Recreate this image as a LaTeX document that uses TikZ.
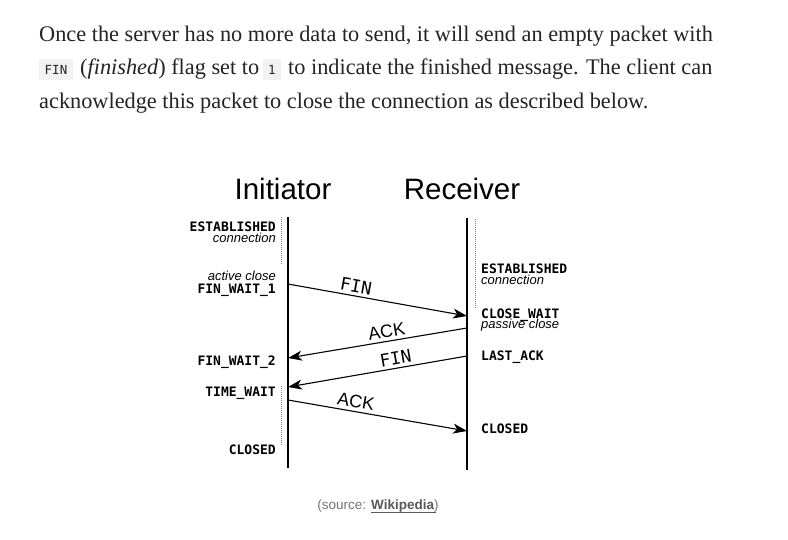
\documentclass[tikz,border=0pt]{standalone}
\usepackage{fontspec}
\setmainfont{Liberation Serif}
\newfontfamily\diasans{Liberation Sans}
\newfontfamily\diamono{DejaVu Sans Mono}
\usetikzlibrary{arrows.meta}
\definecolor{bodytext}{HTML}{242424}
\definecolor{codebg}{HTML}{F2F2F2}
\definecolor{captiongray}{HTML}{757575}
\definecolor{linkgray}{HTML}{5A5A5A}
\begin{document}
\begin{tikzpicture}[x=1pt,y=-1pt,
  bodyline/.style={anchor=base west,inner sep=0pt,text=bodytext,font=\fontsize{22.3}{26}\selectfont},
  codetext/.style={inner sep=0pt,text=bodytext,font=\diamono\fontsize{12.5}{14}\selectfont},
  title/.style={anchor=base,inner sep=0pt,font=\diasans\fontsize{29.5}{32}\selectfont},
  statel/.style={anchor=base east,inner sep=0pt,font=\diamono\bfseries\fontsize{13}{14}\selectfont},
  stater/.style={anchor=base west,inner sep=0pt,font=\diamono\bfseries\fontsize{13}{14}\selectfont},
  notel/.style={anchor=base east,inner sep=0pt,font=\diasans\itshape\fontsize{13}{14}\selectfont},
  noter/.style={anchor=base west,inner sep=0pt,font=\diasans\itshape\fontsize{13}{14}\selectfont},
  timeline/.style={line width=1.3pt},
  waitline/.style={line width=1pt,gray,dash pattern=on 1pt off 1pt},
  msg/.style={line width=1.1pt,-{Stealth[length=14pt,width=10pt,inset=4pt]}},
  msglabel/.style={sloped,above,inner sep=3pt},
  monolabel/.style={font=\diamono\fontsize{17.5}{18}\selectfont},
  sanslabel/.style={font=\diasans\fontsize{18}{18}\selectfont}]
\useasboundingbox[fill=white] (0,0) rectangle (788,539);

% paragraph
\node[bodyline] (p1) at (39,41) {Once the server has no more data to send, it will send an empty packet with};
\fill[codebg] (39,59) rectangle (73,80);
\node[codetext] (c1) at (56,70) {FIN};
\node[bodyline] (p2a) at (80,74.5) {(\textit{finished}) flag set to};
\fill[codebg] (263,59) rectangle (281,80);
\node[codetext] (c2) at (272,70) {1};
\node[bodyline] (p2b) at (288,74.5) {to indicate the finished message. The client can};
\node[bodyline] (p3) at (39,108) {acknowledge this packet to close the connection as described below.};

% titles
\node[title] (tinit) at (283,199) {Initiator};
\node[title] (trecv) at (462,199) {Receiver};

% timelines
\coordinate (itop) at (288,217);
\coordinate (ibot) at (288,468);
\coordinate (rtop) at (467,218);
\coordinate (rbot) at (467,470);
\draw[timeline] (itop) -- (ibot);
\draw[timeline] (rtop) -- (rbot);

% waiting (dotted) lines
\coordinate (w1a) at (281,217);
\coordinate (w1b) at (281,265);
\coordinate (w2a) at (281,386);
\coordinate (w2b) at (281,445);
\coordinate (w3a) at (475,219);
\coordinate (w3b) at (475,308);
\draw[waitline] (w1a) -- (w1b);
\draw[waitline] (w2a) -- (w2b);
\draw[waitline] (w3a) -- (w3b);

% left states
\node[statel] (lest) at (276,231) {ESTABLISHED};
\node[notel] (lcon) at (276,242) {connection};
\node[notel] (lact) at (276,280) {active close};
\node[statel] (lfw1) at (276,293) {FIN\_WAIT\_1};
\node[statel] (lfw2) at (276,365) {FIN\_WAIT\_2};
\node[statel] (ltw) at (276,396) {TIME\_WAIT};
\node[statel] (lcl) at (276,454) {CLOSED};

% right states
\node[stater] (rest) at (481,273) {ESTABLISHED};
\node[noter] (rcon) at (481,284) {connection};
\node[stater] (rcw) at (481,318) {CLOSE\_WAIT};
\node[noter] (rpas) at (481,328) {passive close};
\node[stater] (rla) at (481,360) {LAST\_ACK};
\node[stater] (rcl) at (481,433) {CLOSED};

% messages
\coordinate (m1s) at (288,284);
\coordinate (m1e) at (467,316);
\coordinate (m2s) at (467,328);
\coordinate (m2e) at (288,358);
\coordinate (m3s) at (467,356);
\coordinate (m3e) at (288,387);
\coordinate (m4s) at (288,400);
\coordinate (m4e) at (467,431);
\draw[msg] (m1s) -- node[msglabel,monolabel,pos=0.37] (l1) {FIN} (m1e);
\draw[msg] (m2s) -- node[msglabel,sanslabel,pos=0.44] (l2) {ACK} (m2e);
\draw[msg] (m3s) -- node[msglabel,monolabel,pos=0.39] (l3) {FIN} (m3e);
\draw[msg] (m4s) -- node[msglabel,sanslabel,pos=0.37] (l4) {ACK} (m4e);

% caption
\node[anchor=base,inner sep=0pt,font=\diasans\fontsize{13.5}{15}\selectfont] (cap) at (378,509)
  {\textcolor{captiongray}{(source: }\textcolor{linkgray}{\bfseries Wikipedia}\textcolor{captiongray}{)}};
\coordinate (ula) at (371,512);
\coordinate (ulb) at (436,512);
\draw[linkgray,line width=0.9pt] (ula) -- (ulb);
\end{tikzpicture}
\end{document}
